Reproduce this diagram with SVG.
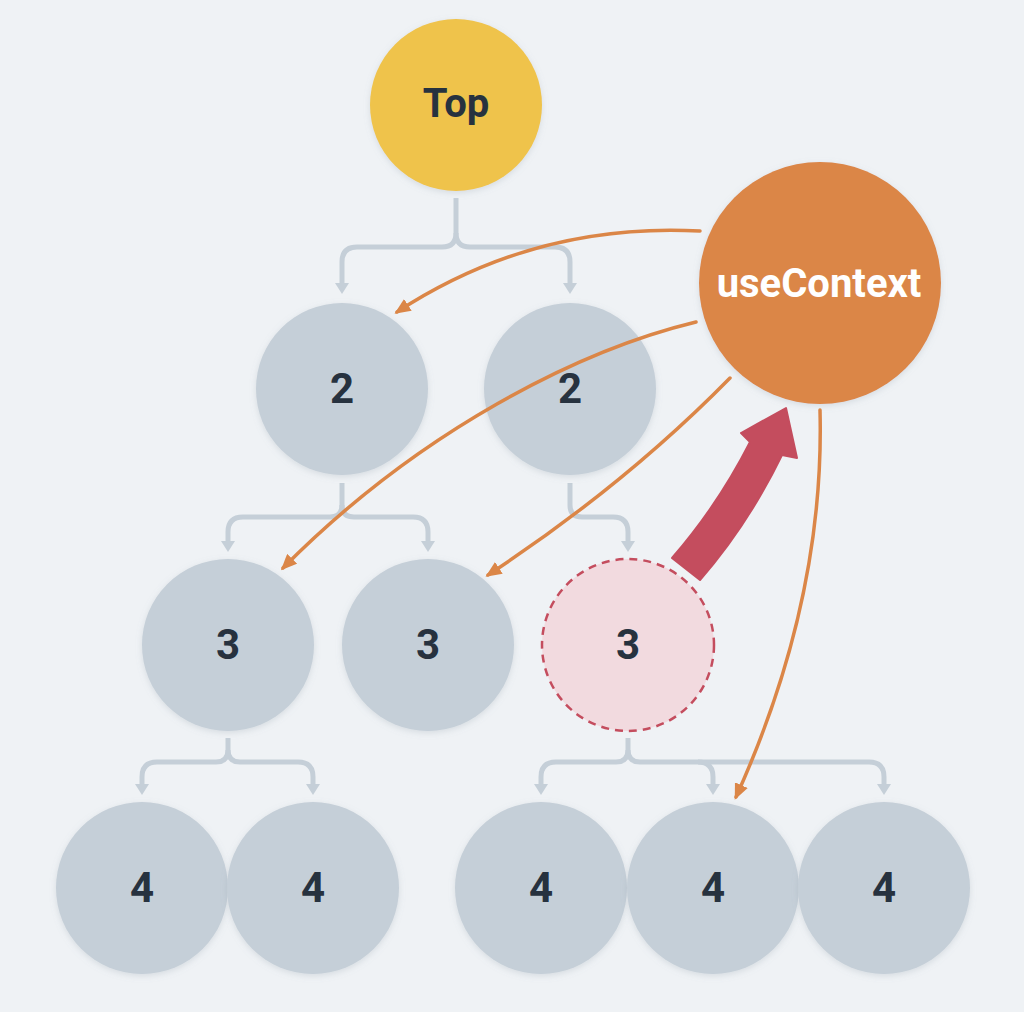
<svg xmlns="http://www.w3.org/2000/svg" width="1024" height="1012" viewBox="0 0 1024 1012">
<style>
.bg{fill:#eff2f5}
.node{fill:#c5cfd8;filter:url(#sh)}
.lbl{font-family:Roboto,"Liberation Sans",sans-serif;font-weight:700;font-size:42px;fill:#27323f;text-anchor:middle}
.tree{fill:none;stroke:#c5cfd8;stroke-width:5;stroke-linecap:butt;stroke-linejoin:round}
.ctx{fill:none;stroke:#db8647;stroke-width:3.5;stroke-linecap:round}
</style>
<defs>
<filter id="sh" x="-20%" y="-20%" width="140%" height="140%">
<feDropShadow dx="0" dy="2" stdDeviation="3" flood-color="#8a97a6" flood-opacity="0.25"/>
</filter>
<marker id="ga" markerUnits="userSpaceOnUse" viewBox="0 -7 11 14" markerWidth="11" markerHeight="14" refX="0" refY="0" orient="auto">
<path d="M0,-7 L11,0 L0,7 Z" fill="#c5cfd8"/>
</marker>
<marker id="oa" markerUnits="userSpaceOnUse" viewBox="0 -7 16 14" markerWidth="16" markerHeight="14" refX="13" refY="0" orient="auto">
<path d="M0,-7 L16,0 L0,7 Z" fill="#db8647"/>
</marker>
</defs>
<rect class="bg" x="0" y="0" width="1024" height="1012"/>

<g id="tree-links">
<path class="tree" d="M456,198 V233 Q456,247 442,247 H357 Q342,247 342,262 V283" marker-end="url(#ga)"/>
<path class="tree" d="M456,233 Q456,247 470,247 H555 Q570,247 570,262 V283" marker-end="url(#ga)"/>
<path class="tree" d="M342,483 V505 Q342,517 330,517 H243 Q228,517 228,532 V541" marker-end="url(#ga)"/>
<path class="tree" d="M342,505 Q342,517 354,517 H413 Q428,517 428,532 V541" marker-end="url(#ga)"/>
<path class="tree" d="M570,483 V505 Q570,517 582,517 H613 Q628,517 628,532 V541" marker-end="url(#ga)"/>
<path class="tree" d="M228,738 V750 Q228,762 216,762 H157 Q142,762 142,777 V784" marker-end="url(#ga)"/>
<path class="tree" d="M228,750 Q228,762 240,762 H298 Q313,762 313,777 V784" marker-end="url(#ga)"/>
<path class="tree" d="M628,738 V750 Q628,762 616,762 H556 Q541,762 541,777 V784" marker-end="url(#ga)"/>
<path class="tree" d="M628,750 Q628,762 640,762 H869 Q884,762 884,777 V784" marker-end="url(#ga)"/>
<path class="tree" d="M698,762 Q713,762 713,777 V784" marker-end="url(#ga)"/>
</g>

<g id="node-top"><circle cx="456" cy="105" r="86" fill="#efc34b" filter="url(#sh)"/><text class="lbl" x="456" y="117" style="font-size:40px">Top</text></g>
<g id="node-usecontext"><circle cx="820" cy="283" r="121" fill="#db8647" filter="url(#sh)"/><text class="lbl" x="819" y="297" style="fill:#fff;font-size:40px">useContext</text></g>

<g id="node-2a"><circle class="node" cx="342" cy="389" r="86"/><text class="lbl" x="342" y="403">2</text></g>
<g id="node-2b"><circle class="node" cx="570" cy="389" r="86"/><text class="lbl" x="570" y="403">2</text></g>

<g id="node-3a"><circle class="node" cx="228" cy="645" r="86"/><text class="lbl" x="228" y="659">3</text></g>
<g id="node-3b"><circle class="node" cx="428" cy="645" r="86"/><text class="lbl" x="428" y="659">3</text></g>
<g id="node-3c"><circle cx="628" cy="645" r="86" fill="#f2dadf" stroke="#c44d5e" stroke-width="2.5" stroke-dasharray="8 6"/><text class="lbl" x="628" y="659">3</text></g>

<g id="node-4a"><circle class="node" cx="142" cy="888" r="86"/><text class="lbl" x="142" y="902">4</text></g>
<g id="node-4b"><circle class="node" cx="313" cy="888" r="86"/><text class="lbl" x="313" y="902">4</text></g>
<g id="node-4c"><circle class="node" cx="541" cy="888" r="86"/><text class="lbl" x="541" y="902">4</text></g>
<g id="node-4d"><circle class="node" cx="713" cy="888" r="86"/><text class="lbl" x="713" y="902">4</text></g>
<g id="node-4e"><circle class="node" cx="884" cy="888" r="86"/><text class="lbl" x="884" y="902">4</text></g>

<g id="context-links">
<path class="ctx" d="M700,231 Q535,222 397,312" marker-end="url(#oa)"/>
<path class="ctx" d="M696,322 C580,350 420,430 283,568" marker-end="url(#oa)"/>
<path class="ctx" d="M730,378 Q625,485 488,575" marker-end="url(#oa)"/>
<path class="ctx" d="M820,410 Q825,600 736,797" marker-end="url(#oa)"/>
<path id="bubble-arrow" d="M672,558 Q718,505 750,442 L741,433 L786,408 L797,458 L782,455 Q748,525 700,580 Z" fill="#c44d5e" stroke="#c44d5e" stroke-width="2" stroke-linejoin="round"/>
</g>
</svg>
